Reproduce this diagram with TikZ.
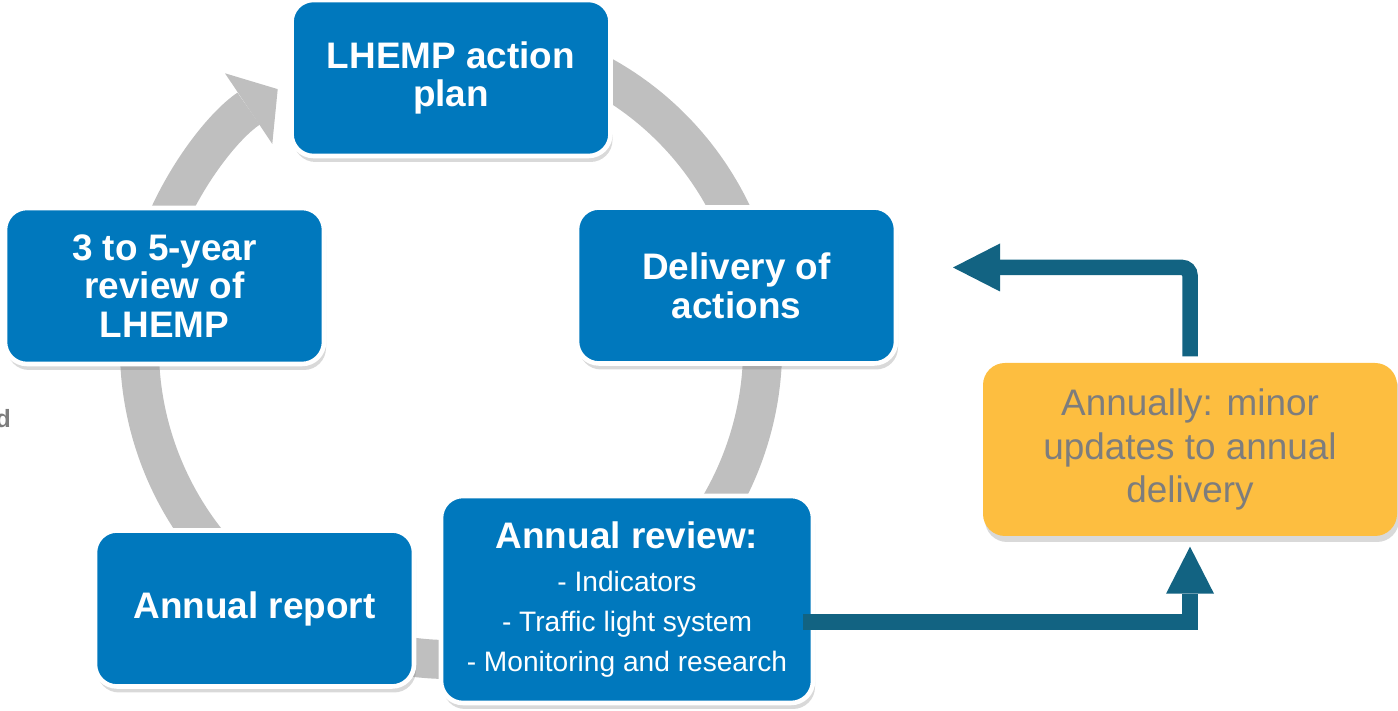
\documentclass[tikz,border=0pt]{standalone}
\usepackage{fontspec}
\setmainfont{Liberation Sans}
\usetikzlibrary{arrows.meta,shadows}
\definecolor{boxblue}{RGB}{0,120,189}
\definecolor{ringgray}{RGB}{191,191,191}
\definecolor{loopteal}{RGB}{18,99,130}
\definecolor{noteyellow}{RGB}{253,190,64}
\definecolor{notegray}{RGB}{125,125,125}
\tikzset{stage/.style = {fill=boxblue, draw=white, line width=1.3pt, rounded corners=0.22cm, text=white, align=center,
    font=\bfseries\fontsize{10.5}{11}\selectfont, minimum width=3.19cm, minimum height=1.56cm,
    drop shadow={shadow xshift=0.02cm, shadow yshift=-0.06cm, opacity=0.3}}}
\tikzset{note/.style = {fill=noteyellow, rounded corners=0.22cm, text=notegray, align=center,
    font=\fontsize{10.5}{12.5}\selectfont, minimum width=4.14cm, minimum height=1.73cm,
    drop shadow={shadow xshift=0.02cm, shadow yshift=-0.06cm, opacity=0.3}}}
\tikzset{ring/.style = {draw=ringgray, line width=0.39cm, -{Triangle[width=8.5mm, length=3.5mm, line width=0pt]}}}
\tikzset{feedback/.style = {draw=loopteal, line width=0.155cm, -{Triangle[width=4.8mm, length=4.7mm, line width=0pt]}}}

\begin{document}
\begin{tikzpicture}
    \useasboundingbox (0, 0) rectangle (13.98, 7.11);
    \coordinate (hub) at (4.51, 3.63);

    % Cycle ring behind the stages
    \draw [ring] (hub) ++(70:3.115) arc [start angle=70, end angle=-236.2, radius=3.115];

    \node [stage] (plan) at (4.51, 6.33) {LHEMP action\\plan};
    \node [stage] (delivery) at (7.365, 4.255) {Delivery of\\actions};
    \node [stage, minimum width=3.72cm, minimum height=2.07cm, font=\fontsize{8}{11.4}\selectfont] (review) at (6.27, 1.115)
        {{\bfseries\fontsize{10.5}{11}\selectfont Annual review:}\\[1pt]- Indicators\\- Traffic light system\\- Monitoring and research};
    \node [stage] (report) at (2.545, 1.025) {Annual report};
    \node [stage] (fiveyear) at (1.645, 4.25) {3 to 5-year\\review of\\LHEMP};
    \node [note] (yearly) at (11.90, 2.615) {Annually: minor\\updates to annual\\delivery};
    \node [anchor=base west, inner sep=0, text=notegray, font=\bfseries\fontsize{7.1}{8}\selectfont] (edgetext) at (-0.05, 2.83) {d};

    % Yearly loop
    \coordinate (backtip) at (9.53, 4.435);
    \coordinate (outstart) at (8.03, 0.89);
    \draw [feedback, rounded corners=0.08cm] ([yshift=0.06cm]yearly.north) |- (backtip);
    \draw [feedback] (outstart) -| ([yshift=-0.1cm]yearly.south);

\end{tikzpicture}
\end{document}
